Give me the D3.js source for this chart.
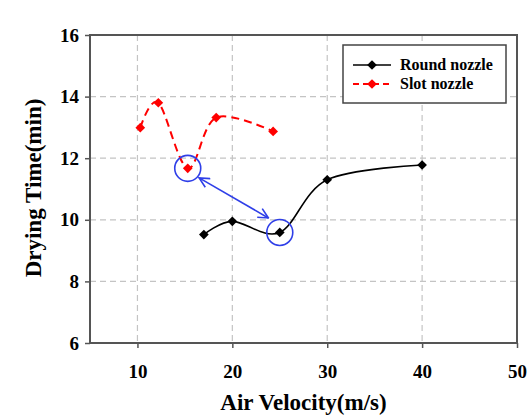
<!DOCTYPE html>
<html>
<head>
<meta charset="utf-8">
<script src="https://cdn.jsdelivr.net/npm/d3@7"></script>
<style>
html,body{margin:0;padding:0;background:#fff;}
svg{display:block;}
text{font-family:"Liberation Serif","Times New Roman",serif;font-weight:bold;fill:#000;}
</style>
</head>
<body>
<svg id="chart" width="530" height="415"></svg>
<script>
// ---- data ----
const roundX = [17, 20, 25, 30, 40];
const roundY = [9.52, 9.95, 9.59, 11.3, 11.78];
const slotX = [10.3, 12.2, 15.3, 18.3, 24.3];
const slotY = [12.99, 13.8, 11.67, 13.32, 12.87];
const xTicks = [10, 20, 30, 40, 50];
const yTicks = [6, 8, 10, 12, 14, 16];
const seriesNames = ["Round nozzle", "Slot nozzle"];
const xTitle = "Air Velocity(m/s)";
const yTitle = "Drying Time(min)";
// annotation: highlighted points and double arrow (data coords)
const highlightX = [15.3, 25];
const highlightY = [11.67, 9.59];
const arrowX = [16.5, 23.8];
const arrowY = [11.36, 10.06];

const svg = d3.select("#chart");
const L = 90, R = 517, T = 35, B = 343;
const x = d3.scaleLinear().domain([5, 50]).range([L, R]);
const y = d3.scaleLinear().domain([6, 16]).range([B, T]);

// grid
const grid = svg.append("g");
grid.selectAll("line.v").data(xTicks.filter(d => d < 50)).enter().append("line")
  .attr("x1", d => x(d)).attr("x2", d => x(d)).attr("y1", T).attr("y2", B)
  .attr("stroke", "#c4c4c4").attr("stroke-width", 1.2).attr("stroke-dasharray", "6,4");
grid.selectAll("line.h").data(yTicks.filter(d => d > 6 && d < 16)).enter().append("line")
  .attr("y1", d => y(d)).attr("y2", d => y(d)).attr("x1", L).attr("x2", R)
  .attr("stroke", "#c4c4c4").attr("stroke-width", 1.2).attr("stroke-dasharray", "6,4");

// axes
const xAxis = svg.append("g").attr("transform", `translate(0,${B})`)
  .call(d3.axisBottom(x).tickValues(xTicks).tickSize(5).tickPadding(17).tickFormat(d3.format("d")));
const yAxis = svg.append("g").attr("transform", `translate(${L},0)`)
  .call(d3.axisLeft(y).tickValues(yTicks).tickSize(5).tickPadding(6).tickFormat(d3.format("d")));
[xAxis, yAxis].forEach(a => {
  a.select(".domain").remove();
  a.selectAll(".tick line").attr("stroke", "#555").attr("stroke-width", 1.5);
  a.selectAll(".tick text").style("font-family", '"Liberation Serif","Times New Roman",serif')
    .style("font-weight", "bold").style("font-size", "19px").attr("fill", "#000");
});
// frame
svg.append("rect").attr("x", L).attr("y", T).attr("width", R - L).attr("height", B - T)
  .attr("fill", "none").attr("stroke", "#555").attr("stroke-width", 2);

// titles
svg.append("text").attr("x", (L + R) / 2).attr("y", 410).attr("text-anchor", "middle")
  .style("font-size", "23px").text(xTitle);
svg.append("text").attr("transform", `translate(41,${(T + B) / 2 - 1}) rotate(-90)`)
  .attr("text-anchor", "middle").style("font-size", "23px").text(yTitle);

const curve = d3.curveCardinal.tension(0);
const line = d3.line().x(d => x(d[0])).y(d => y(d[1])).curve(curve);
const roundPts = roundX.map((v, i) => [v, roundY[i]]);
const slotPts = slotX.map((v, i) => [v, slotY[i]]);
const diamond = d3.symbol().type(d3.symbolDiamond2).size(60);

svg.append("path").attr("d", line(slotPts)).attr("fill", "none")
  .attr("stroke", "#ff0000").attr("stroke-width", 2).attr("stroke-dasharray", "8,5");
svg.append("path").attr("d", line(roundPts)).attr("fill", "none")
  .attr("stroke", "#000").attr("stroke-width", 1.6);
svg.selectAll("path.s").data(slotPts).enter().append("path")
  .attr("transform", d => `translate(${x(d[0])},${y(d[1])})`).attr("d", diamond).attr("fill", "#ff0000");
svg.selectAll("path.r").data(roundPts).enter().append("path")
  .attr("transform", d => `translate(${x(d[0])},${y(d[1])})`).attr("d", diamond).attr("fill", "#000");

// annotations
const blue = "#2f3fe8";
svg.selectAll("circle.hl").data(highlightX).enter().append("circle")
  .attr("cx", d => x(d)).attr("cy", (d, i) => y(highlightY[i])).attr("r", 13)
  .attr("fill", "none").attr("stroke", blue).attr("stroke-width", 1.6);
const defs = svg.append("defs");
["start", "end"].forEach(k => {
  defs.append("marker").attr("id", "arr-" + k).attr("viewBox", "0 0 12 12")
    .attr("refX", k === "end" ? 11 : 1).attr("refY", 6).attr("markerWidth", 12).attr("markerHeight", 12)
    .attr("markerUnits", "userSpaceOnUse").attr("orient", "auto")
    .append("path").attr("d", k === "end" ? "M1,1 L11,6 L1,11" : "M11,1 L1,6 L11,11")
    .attr("fill", "none").attr("stroke", blue).attr("stroke-width", 1.6);
});
svg.append("line").attr("x1", x(arrowX[0])).attr("y1", y(arrowY[0]))
  .attr("x2", x(arrowX[1])).attr("y2", y(arrowY[1]))
  .attr("stroke", blue).attr("stroke-width", 1.6)
  .attr("marker-start", "url(#arr-start)").attr("marker-end", "url(#arr-end)");

// legend
const lg = svg.append("g");
lg.append("rect").attr("x", 343).attr("y", 45).attr("width", 163).attr("height", 58)
  .attr("fill", "#fff").attr("stroke", "#444").attr("stroke-width", 1.5);
const colors = ["#000", "#ff0000"];
seriesNames.forEach((n, i) => {
  const yy = 65 + i * 19;
  lg.append("line").attr("x1", 353).attr("x2", 391).attr("y1", yy).attr("y2", yy)
    .attr("stroke", colors[i]).attr("stroke-width", i ? 2 : 1.6).attr("stroke-dasharray", i ? "6,4" : null);
  lg.append("path").attr("transform", `translate(372,${yy})`).attr("d", diamond).attr("fill", colors[i]);
  lg.append("text").attr("x", 400).attr("y", yy + 5).style("font-size", "16px").text(n);
});
</script>
</body>
</html>
